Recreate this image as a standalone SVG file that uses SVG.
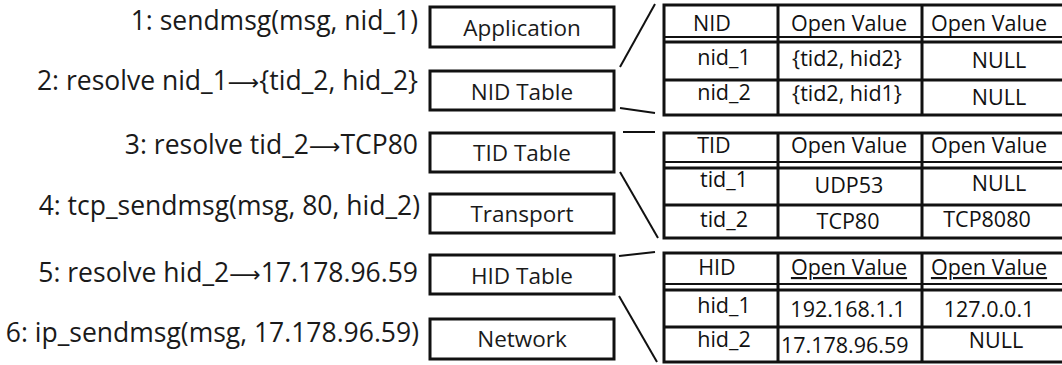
<svg xmlns="http://www.w3.org/2000/svg" width="1062" height="365" viewBox="0 0 1062 365">
<style>
.lbl{font-family:"Open Sans","Liberation Sans",sans-serif;font-size:26.5px;fill:#1a1a1a;text-anchor:end}
.arr{font-family:"DejaVu Sans",sans-serif;font-size:22px}
.bt{font-family:"Open Sans","Liberation Sans",sans-serif;font-size:22.5px;fill:#1a1a1a;text-anchor:middle}
.box{fill:#fff;stroke:#111;stroke-width:3}
.tc{font-family:"Open Sans","Liberation Sans",sans-serif;font-size:21.5px;fill:#111;text-anchor:middle}
.tb{fill:none;stroke:#111;stroke-width:3}
.tl{stroke:#111;stroke-width:3}
.thin{stroke:#111;stroke-width:2}
.con{stroke:#111;stroke-width:2;fill:none}
</style>
<rect width="1062" height="365" fill="#fff"/>
<g id="labels">
<text class="lbl" x="418" y="30">1: sendmsg(msg, nid_1)</text>
<text class="lbl" x="418" y="90">2: resolve nid_1<tspan class="arr">⟶</tspan>{tid_2, hid_2}</text>
<text class="lbl" x="418" y="154">3: resolve tid_2<tspan class="arr">⟶</tspan>TCP80</text>
<text class="lbl" x="420" y="215">4: tcp_sendmsg(msg, 80, hid_2)</text>
<text class="lbl" x="418" y="282">5: resolve hid_2<tspan class="arr">⟶</tspan>17.178.96.59</text>
<text class="lbl" x="419" y="342">6: ip_sendmsg(msg, 17.178.96.59)</text>
</g>
<g id="application"><rect class="box" x="430" y="7" width="184" height="40"/><text class="bt" x="522" y="36">Application</text></g>
<g id="nid-table-box"><rect class="box" x="430" y="71" width="184" height="39"/><text class="bt" x="522" y="100">NID Table</text></g>
<g id="tid-table-box"><rect class="box" x="430" y="133" width="184" height="39"/><text class="bt" x="522" y="161">TID Table</text></g>
<g id="transport"><rect class="box" x="430" y="194" width="184" height="39"/><text class="bt" x="522" y="222">Transport</text></g>
<g id="hid-table-box"><rect class="box" x="430" y="255" width="184" height="39"/><text class="bt" x="522" y="284">HID Table</text></g>
<g id="network"><rect class="box" x="430" y="319" width="184" height="40"/><text class="bt" x="522" y="347">Network</text></g>
<g id="connectors">
<line class="con" x1="620" y1="67" x2="655" y2="4"/>
<line class="con" x1="620" y1="108" x2="655" y2="113"/>
<line class="con" x1="623" y1="132" x2="655" y2="132"/>
<line class="con" x1="620" y1="172" x2="658" y2="238"/>
<line class="con" x1="619" y1="256" x2="655" y2="252"/>
<line class="con" x1="619" y1="296" x2="657" y2="362"/>
</g>
<g id="nid-table">
<rect class="tb" x="664" y="5" width="400" height="110"/>
<line class="thin" x1="664" y1="37" x2="1064" y2="37"/>
<line class="tl" x1="664" y1="42" x2="1064" y2="42"/>
<line class="tl" x1="664" y1="80" x2="1064" y2="80"/>
<line class="tl" x1="778" y1="5" x2="778" y2="115"/>
<line class="tl" x1="922" y1="5" x2="922" y2="115"/>
<text class="tc" x="712" y="31">NID</text>
<text class="tc" x="849" y="31">Open Value</text>
<text class="tc" x="989" y="31">Open Value</text>
<text class="tc" x="724" y="65">nid_1</text>
<text class="tc" x="847" y="66">{tid2, hid2}</text>
<text class="tc" x="999" y="68">NULL</text>
<text class="tc" x="724" y="100">nid_2</text>
<text class="tc" x="847" y="101">{tid2, hid1}</text>
<text class="tc" x="999" y="105">NULL</text>
</g>
<g id="tid-table">
<rect class="tb" x="664" y="133" width="400" height="105"/>
<line class="thin" x1="664" y1="162" x2="1064" y2="162"/>
<line class="tl" x1="664" y1="168" x2="1064" y2="168"/>
<line class="tl" x1="664" y1="205" x2="1064" y2="205"/>
<line class="tl" x1="778" y1="133" x2="778" y2="238"/>
<line class="tl" x1="922" y1="133" x2="922" y2="238"/>
<text class="tc" x="714" y="153">TID</text>
<text class="tc" x="849" y="153">Open Value</text>
<text class="tc" x="989" y="153">Open Value</text>
<text class="tc" x="724" y="187">tid_1</text>
<text class="tc" x="849" y="193">UDP53</text>
<text class="tc" x="999" y="191">NULL</text>
<text class="tc" x="724" y="227">tid_2</text>
<text class="tc" x="848" y="229">TCP80</text>
<text class="tc" x="987" y="227">TCP8080</text>
</g>
<g id="hid-table">
<rect class="tb" x="664" y="253" width="400" height="109"/>
<line class="thin" x1="664" y1="284" x2="1064" y2="284"/>
<line class="tl" x1="664" y1="290" x2="1064" y2="290"/>
<line class="tl" x1="664" y1="327" x2="1064" y2="327"/>
<line class="tl" x1="778" y1="253" x2="778" y2="362"/>
<line class="tl" x1="922" y1="253" x2="922" y2="362"/>
<text class="tc" x="717" y="275">HID</text>
<text class="tc" x="849" y="275" text-decoration="underline">Open Value</text>
<text class="tc" x="989" y="275" text-decoration="underline">Open Value</text>
<text class="tc" x="724" y="313">hid_1</text>
<text class="tc" x="848" y="317">192.168.1.1</text>
<text class="tc" x="989" y="317">127.0.0.1</text>
<text class="tc" x="724" y="347">hid_2</text>
<text class="tc" x="781" y="353" style="text-anchor:start">17.178.96.59</text>
<text class="tc" x="996" y="348">NULL</text>
</g>
</svg>
